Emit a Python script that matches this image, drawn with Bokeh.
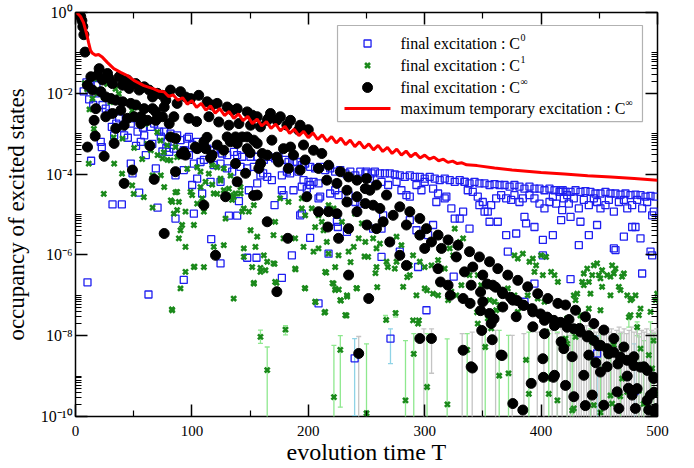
import math
from bokeh.plotting import figure
from bokeh.models import (Range1d, FixedTicker, LogAxis, LinearAxis, Label,
                          BoxAnnotation, CustomJSTickFormatter)
from bokeh.embed import file_html
from bokeh.resources import INLINE

FONT = "Liberation Serif"

# ---------------- data: (evolution time T, log10 of occupancy) ----------------
c0_points = [
    (7,-1.95),(9.4,-1.73),(11.7,-2.15),(13,-1.75),(15.2,-2.29),(18,-1.8),(20,-2.0),(23.2,-2.29),(26,-2.38),
    (10.3,-6.68),(13.4,-3.67),(21.7,-3.2),(22.6,-3.33),(29,-2.5),(31.2,-2.83),(33.2,-3.04),(35,-2.75),(37.5,-2.62),
    (40,-2.85),(41.8,-3.04),(43.2,-2.62),(45,-3.1),(47.5,-2.75),(50.4,-2.62),(52,-3.3),(53.3,-2.95),(56.1,-3.2),
    (58,-2.85),(59,-3.04),(60.4,-3.53),(64.7,-2.83),(66,-3.25),(67.6,-2.75),(69,-3.86),(71.9,-2.95),(73.3,-3.07),
    (74.7,-3.44),(76.2,-2.95),(78,-3.35),(79,-3.2),(80.5,-3.45),(47.5,-3.74),(49,-3.98),(54.7,-4.46),(31.8,-4.75),
    (39.8,-4.75),(62.7,-6.98),(70.5,-4.83),
    (81.6,-3.0),(87.3,-3.04),(90.2,-3.16),(95.9,-3.12),(97.4,-3.08),(100.2,-3.28),(104.5,-3.2),(110.3,-3.2),
    (113.1,-3.37),(118.8,-3.41),(121.7,-3.37),(126,-3.49),(130.3,-3.53),(136.1,-3.45),(138.9,-3.53),(143.2,-3.57),
    (150.4,-3.57),(156.1,-3.57),(161.8,-3.65),
    (84.5,-3.37),(93,-3.41),(97.4,-3.53),(101.7,-3.74),(107.4,-3.7),(110.3,-3.65),(118.8,-3.78),(124.6,-3.74),
    (130.3,-3.86),(134.6,-3.94),(141.8,-3.82),(147.5,-3.86),(153.2,-3.82),(158.9,-4.03),(164.7,-4.07),(85.9,-4.03),
    (93,-3.9),(104.5,-4.11),(116,-4.19),(124.6,-4.19),(138.9,-4.19),(148.9,-4.4),(156.1,-4.23),(161.2,-3.98),
    (100.2,-4.27),(108.8,-4.48),(101.7,-4.98),(85.9,-5.1),(140.4,-4.67),(131.8,-5.03),(138.9,-5.03),(116.6,-5.61),
    (124.6,-6.21),(93,-6.62),(147.5,-6.07),(155.5,-6.07),
    (165.8,-3.57),(171.5,-3.61),(174.4,-3.57),(180.1,-3.65),(183,-3.7),(187.3,-3.7),(190.2,-3.7),(194.4,-3.78),
    (197.3,-3.74),(201.6,-3.82),(205.9,-3.86),(210.2,-3.82),(214.5,-3.9),(218.8,-3.86),(223.1,-3.94),(227.5,-3.9),
    (231.8,-3.98),(236.1,-3.94),(240.4,-4.03),(244.7,-3.94),(249,-3.98),
    (168.7,-4.15),(177.3,-4.03),(181.6,-3.94),(184.4,-3.98),(191.6,-3.94),(195.9,-4.15),(200.2,-4.19),(204.5,-4.19),
    (208.8,-4.23),(177.3,-4.4),(178.7,-4.52),(187.3,-4.4),(194.4,-4.31),(198.7,-4.36),(201.6,-4.27),(208.8,-4.6),
    (210.2,-4.56),(218.8,-4.48),(223.1,-4.4),(226,-4.52),(234.6,-4.52),(240.4,-4.69),(244.7,-4.73),(171,-4.77),
    (193,-5.02),(194.4,-4.98),(217.4,-4.89),(224.6,-5.18),(225.4,-5.31),(233.2,-5.43),(185.9,-6.01),(201.6,-5.58),
    (217.4,-5.97),(177.3,-6.57),(208.8,-7.2),(239.8,-8.56),
    (250,-3.94),(254.3,-3.98),(257.2,-3.94),(261.5,-3.98),(265.8,-3.98),(270,-3.98),(274.3,-4.01),(278.6,-4.03),
    (282.9,-4.07),(287.2,-4.03),(291.5,-4.07),(295.8,-4.07),(300,-4.11),(304.3,-4.07),(308.6,-4.11),(312.9,-4.15),
    (317.2,-4.11),(321.5,-4.15),(325.8,-4.19),(330.1,-4.15),(334.4,-4.19),
    (252.9,-4.11),(262.9,-4.19),(268.6,-4.27),(275.8,-4.19),(280,-4.4),(284.3,-4.52),(287.2,-4.56),(292.9,-4.27),
    (297.2,-4.4),(300,-4.19),(307.2,-4.36),(311.5,-4.48),(317.2,-4.6),(318.6,-4.56),(322.9,-4.85),(325.8,-5.1),
    (330.1,-5.1),(333,-4.93),(264.3,-5.02),(262.9,-5.35),(287.2,-5.14),(292.9,-5.39),(302.9,-5.51),(307.2,-5.26),
    (310,-4.69),(278.6,-5.92),(262.9,-6.05),(294.3,-6.3),(324.9,-6.54),(301.5,-7.37),(270.6,-8.07),(255.7,-5.35),
    (334.2,-4.19),(338.5,-4.23),(342.8,-4.19),(347,-4.23),(351.4,-4.23),(355.7,-4.27),(360,-4.25),(364.3,-4.27),
    (368.6,-4.27),(372.9,-4.31),(377.1,-4.27),(381.4,-4.31),(385.7,-4.36),(390,-4.31),(394.3,-4.36),(398.6,-4.36),
    (402.9,-4.4),(407.2,-4.36),(411.5,-4.4),(415.8,-4.44),(418.6,-4.4),
    (337,-4.4),(341.3,-4.44),(345.6,-4.56),(349.9,-4.69),(347,-4.77),(351.4,-4.93),(357.1,-4.77),(361.4,-4.6),
    (365.7,-4.52),(370,-4.6),(374.3,-4.64),(377.1,-4.52),(381.4,-4.69),(384.3,-4.6),(390,-4.52),(394.3,-4.6),
    (398.6,-4.73),(402.9,-4.85),(407.2,-4.69),(410.1,-4.56),(412.9,-4.73),(354.2,-4.93),(355.7,-5.18),(362.8,-5.18),
    (370,-5.51),(378.6,-5.47),(385.7,-5.06),(387.1,-5.22),(394.3,-5.31),(401.5,-5.63),(410.1,-5.51),(371.4,-5.92),
    (401.5,-6.01),(385.7,-7.16),(394.3,-6.71),(338.5,-5.35),(417.2,-5.14),
    (416.7,-4.4),(421,-4.44),(425.3,-4.44),(429.6,-4.4),(433.8,-4.44),(438.1,-4.42),(442.4,-4.44),(446.7,-4.48),
    (451,-4.48),(455.3,-4.44),(459.6,-4.48),(463.9,-4.48),(468.2,-4.51),(472.5,-4.48),(476.8,-4.52),(481.1,-4.51),
    (485.4,-4.52),(489.7,-4.56),(494,-4.54),(498.3,-4.56),
    (419.5,-4.6),(423.8,-4.73),(422.4,-4.52),(428.1,-4.6),(432.4,-4.85),(436.7,-4.64),(441,-4.77),(445.3,-4.6),
    (448.1,-4.69),(451,-4.85),(455.3,-4.77),(458.2,-4.64),(462.5,-4.93),(466.8,-4.69),(471.1,-4.64),(474,-4.85),
    (478.2,-4.77),(482.5,-4.64),(486.8,-4.85),(491.1,-4.69),(495.4,-5.02),(496.8,-4.93),
    (418.1,-4.89),(425.3,-5.06),(433.8,-5.18),(441,-5.51),(448.1,-5.26),(462.5,-5.84),(463.9,-5.88),(471.1,-5.55),
    (478.2,-5.31),(481.1,-5.31),(485.4,-5.59),(494,-5.92),(495.4,-6.01),(432.4,-5.76),(486.8,-6.46),(425.3,-6.6),
    (448.1,-8.44),(480.3,-9.37),
]

c1_points = [
    (8,-1.75),(10,-1.9),(12,-2.4),(14.6,-2.13),(15.8,-1.64),(18.9,-2.0),(20,-1.93),(24.3,-2.1),(27.2,-1.77),
    (30,-2.22),(34.4,-1.89),(37.2,-2.01),(41.5,-2.18),(44.4,-2.22),(48.7,-2.43),(53,-2.34),(55.8,-2.63),
    (60.1,-2.76),(63,-2.67),(70.2,-2.96),(73,-3.17),(78.8,-3.29),
    (15.8,-2.88),(32.7,-3.09),(40.4,-3.12),(50.4,-3.35),(57.3,-3.63),(61.6,-3.25),(64.7,-3.41),(70.5,-3.53),
    (74.7,-3.61),(75.9,-3.46),(79,-3.65),
    (11.4,-3.74),(33.2,-3.74),(40,-3.99),(48.7,-4.28),(24.3,-4.49),(50,-4.49),(58.7,-4.57),(66.2,-4.83),
    (66.2,-4.03),(73.3,-4.03),(76.2,-4.32),(81.9,-4.65),(82.8,-7.35),
    (81.6,-3.66),(85.9,-3.33),(87.3,-3.58),(96,-3.87),(104.5,-3.83),(114.5,-3.99),(121.7,-3.83),(124.6,-4.16),
    (133.2,-4.04),(141.8,-4.32),(85.9,-4.45),(107.4,-4.32),(121.7,-4.49),(136,-4.57),
    (117.4,-3.78),(127.4,-3.86),(107.4,-3.94),(111.7,-4.19),(117.4,-4.26),(124.6,-4.11),(131.8,-4.36),
    (137.5,-4.48),(133.2,-4.52),(141.8,-4.48),(144.6,-4.85),(148.9,-4.93),(153.2,-4.77),(87.3,-4.44),(88.8,-4.69),
    (83.1,-4.69),(98.8,-4.44),(100.2,-4.52),(104.5,-4.73),(108.8,-4.6),(84.5,-4.98),(87.3,-4.89),(94.5,-4.93),
    (101.7,-5.26),(91.6,-5.26),(90.2,-5.39),(88.8,-5.59),(94.5,-5.8),(110.3,-4.93),(118.8,-4.48),(127.4,-4.4),
    (134.6,-4.64),(128.9,-5.1),(143.2,-4.93),(150.4,-5.39),(156.1,-5.55),(154.6,-5.8),(161.8,-6.01),(164.7,-6.17),
    (151.8,-6.3),(158.9,-6.42),(163.2,-6.38),(144.6,-6.05),(144.6,-5.84),(127.4,-5.76),(118.8,-5.8),(101.7,-6.3),
    (110.3,-6.3),(94.5,-6.42),(90.2,-6.83),(135.9,-7.08),(153.2,-6.71),(83.1,-7.37),(158.9,-8.03),(164.7,-8.85),
    (102.2,-6.29),(153.2,-6.69),(158.9,-6.32),
    (171,-6.22),(172.7,-6.69),(180.4,-7.85),(189,-6.36),(197,-6.82),(206.2,-7.17),(213.9,-7.43),(215.4,-6.44),
    (220.8,-6.7),(223.4,-6.84),(226.2,-6.86),(228,-7.13),(232.8,-7.5),(233.4,-7.03),(236.3,-6.18),(241.4,-6.82),
    (248.3,-6.04),
    (175.8,-4.6),(183,-4.69),(194.4,-4.6),(203,-4.85),(208.8,-5.02),(211.6,-5.18),(194.4,-4.85),(171.5,-5.18),
    (197.3,-5.02),(217.4,-4.77),(221.7,-4.85),(205.9,-5.31),(228.9,-5.18),(246,-5.22),(240.2,-4.98),(170.1,-5.51),
    (178.7,-5.59),(188.7,-5.59),(195.9,-5.8),(204.5,-5.92),(208.8,-5.84),(213.1,-5.39),(215.9,-5.68),(217.4,-5.97),
    (223.1,-6.3),(226,-6.01),(234.6,-5.92),(239,-5.8),(243.3,-5.59),(249,-5.68),(170.1,-6.21),(171.5,-6.67),
    (188.7,-6.34),(197.3,-6.83),(205.9,-7.16),(214.5,-6.42),(221.7,-6.71),(223.1,-6.87),(227.5,-7.12),(233.2,-7.0),
    (241.8,-6.83),(231.8,-7.49),(214.5,-7.41),(222,-9.52),(227.5,-8.35),(250,-9.92),
    (251.4,-5.26),(255.7,-5.59),(261.5,-5.72),(258.6,-5.84),(251.4,-6.05),(265.8,-5.18),(270,-5.68),(275.8,-5.55),
    (280,-5.76),(278.6,-6.01),(267.2,-6.17),(274.3,-6.34),(287.2,-6.26),(290,-6.01),(295.8,-6.17),(300,-6.3),
    (305.8,-6.26),(311.5,-6.13),(317.2,-6.34),(321.5,-5.84),(324.4,-6.01),(330.1,-5.68),(333,-5.59),(325.8,-5.35),
    (320.1,-5.59),(281.5,-6.79),(287.2,-6.5),(275.8,-6.17),(292.9,-7.0),(300,-6.83),(307.2,-6.96),(312.9,-6.71),
    (322.9,-6.91),(327.2,-7.0),(331.5,-6.75),(258.6,-6.3),(257.7,-6.45),(259.2,-6.8),(266.9,-7.61),(268.3,-6.3),
    (285,-6.55),(302,-6.88),(275,-7.44),(290,-7.62),(294.3,-7.7),(311.5,-7.0),(320.1,-7.12),(302,-9.27),
    (283.5,-9.6),(290.6,-8.45),(319.5,-9.7),(295,-7.62),
    (336.5,-8.35),(345,-7.42),(352,-8.28),(364,-8.99),(372,-8.93),(389.5,-9.44),(406.6,-9.44),(414,-9.6),
    (377.1,-6.01),(380,-6.09),(384.3,-5.97),(390,-6.17),(392.9,-6.09),(395.7,-6.26),(400,-6.01),(404.3,-6.05),
    (394.3,-6.42),(401.5,-6.5),(408.6,-6.42),(411.5,-6.5),(414.4,-6.67),(338.5,-6.5),(345.6,-6.5),(348.5,-6.75),
    (355.7,-7.12),(360,-7.16),(364.3,-7.24),(361.4,-7.37),(365.7,-7.33),(371.4,-6.83),(377.1,-7.0),(380,-7.16),
    (388.5,-7.0),(397.1,-7.08),(402.9,-7.16),(380,-7.41),(345.6,-7.7),(354.2,-7.57),(357.1,-7.82),(387.1,-8.6),
    (408.6,-9.06),(404.3,-7.9),
    (422.4,-8.2),(426.7,-9.85),(433.8,-7.5),(442.4,-8.53),(451,-9.9),(459.6,-9.48),(468,-9.5),(475.4,-7.54),
    (482.5,-7.79),(484,-9.36),(488,-9.69),(496.6,-8.12),
    (436.7,-6.46),(439.6,-6.34),(445.3,-6.26),(448.1,-6.21),(443.9,-6.5),(449.6,-6.5),(452.4,-6.38),(456.7,-6.5),
    (459.6,-6.54),(462.5,-6.46),(463.9,-6.34),(461,-6.26),(469.6,-6.54),(471.1,-6.46),(451,-6.58),(441,-6.67),
    (435.3,-6.67),(436.7,-6.75),(452.4,-6.79),(466.8,-6.79),(468.2,-6.87),(474,-7.0),(478.2,-7.08),(481.1,-7.0),
    (476.8,-7.12),(459.6,-7.0),(442.4,-6.96),(431,-6.96),(428.1,-7.0),(429.6,-7.12),(499.7,-6.96),(498.3,-7.12),
    (494,-7.41),(485.4,-7.33),(484,-7.49),(476.8,-7.49),(451,-7.37),(441,-7.33),(422.4,-7.57),(421,-8.07),
    (429.6,-8.03),(443.9,-8.15),(456.7,-8.48),(462.5,-8.23),(469.6,-9.06),(474,-9.39),(492.5,-8.48),(485.4,-8.32),
    (495.4,-8.81),(498.3,-9.43),(461,-9.68),(428.1,-9.8),(445.3,-9.72),
]

cinf_points = [
    (0.8,-0.01),(2,-0.02),(3.2,-0.04),(4.5,-0.1),(5.5,-0.2),(6.3,-0.35),(7.2,-0.55),(8.2,-0.98),
    (13.2,-1.59),(20.3,-1.39),(18.9,-1.55),(23.2,-1.67),(27.5,-1.51),(28.9,-1.63),(31.8,-1.76),(37.5,-1.59),
    (40.4,-1.8),(44.7,-1.67),(46.1,-1.88),(51.8,-1.76),(54.7,-1.92),(59,-1.84),(63.3,-1.92),(66.2,-2.09),
    (70.4,-2.0),(74.7,-2.05),(77.6,-2.17),
    (10.3,-1.8),(14.6,-1.92),(21.8,-1.96),(26,-2.09),(30.4,-2.13),(34.6,-2.17),(40.4,-2.21),(47.5,-2.25),
    (51.8,-2.29),(59,-2.38),(66.2,-2.38),(69,-2.46),(76.2,-2.34),
    (17.5,-2.38),(26,-2.58),(31.8,-2.5),(38.9,-2.42),(44.7,-2.62),(50.4,-2.58),(56.1,-2.58),(61.9,-2.67),
    (69,-2.67),(74.7,-2.58),(80.5,-2.75),(34.6,-2.87),(41.8,-2.79),(56.1,-2.75),
    (16,-2.67),(16.9,-3.06),(10.3,-3.33),(24.6,-3.56),(33.2,-3.24),(41.8,-4.23),(48.9,-3.9),(67.6,-4.13),
    (76.2,-5.47),(64,-3.3),(91,-3.5),(116,-3.6),(113,-3.09),(133,-3.2),(150,-3.47),(159,-3.74),(173,-3.58),
    (184.7,-3.33),(193,-3.9),(153,-4.53),
    (81.6,-1.92),(90.2,-1.96),(98.8,-2.13),(105.9,-2.05),(113.1,-2.21),(121.7,-2.25),(130.3,-2.34),(138.9,-2.38),
    (147.5,-2.46),(156.1,-2.58),(164.7,-2.67),(87.3,-2.25),(94.5,-2.09),(117.4,-2.29),(134.6,-2.42),(151.8,-2.54),
    (84.5,-2.58),(97.4,-2.62),(104,-2.7),(114.6,-2.58),(123.1,-2.71),(131.8,-2.79),(140.4,-2.75),(150.4,-2.79),
    (158.9,-2.83),
    (81.6,-3.08),(85.9,-3.12),(93,-3.45),(103,-3.33),(110.3,-3.2),(111.7,-3.37),(117.4,-3.53),(121.7,-3.28),
    (127.4,-3.41),(130.3,-3.08),(137.5,-3.08),(138.9,-3.24),(143.2,-3.08),(147.5,-3.08),(153.2,-3.16),(156.1,-3.24),
    (160.4,-3.49),(164.7,-3.53),(147.5,-3.37),(137.5,-3.74),(157.5,-3.86),(146.1,-3.98),(85.9,-3.94),(94.5,-3.53),
    (104.5,-3.37),(138.9,-4.19),(156.1,-4.52),(128.9,-4.56),(110.3,-4.77),(120.3,-6.01),(164.7,-5.18),
    (167.5,-2.5),(176,-2.58),(184.7,-2.67),(193,-2.79),(200,-2.9),
    (165.8,-2.62),(173,-2.67),(181.6,-2.79),(191.6,-2.91),(195.9,-3.28),(204.5,-3.41),(211.6,-3.49),(217.4,-3.78),
    (227.5,-3.94),(234.6,-4.07),(241.8,-4.15),(249,-4.36),
    (168.7,-3.16),(178.7,-3.37),(187.3,-3.53),(197.3,-3.65),(208.8,-3.86),(215.9,-4.15),(224.6,-4.23),(233.2,-4.4),
    (241.8,-4.56),(249,-4.73),
    (174.4,-3.7),(183,-3.86),(198.7,-4.56),(208.8,-4.93),(217.4,-4.93),(224.6,-4.98),(233.2,-4.69),(241.8,-4.93),
    (250.4,-5.26),(234.6,-5.35),(226,-5.59),(216.8,-5.31),(182.4,-5.59),(173,-6.91),(234.6,-6.5),(243.3,-8.44),
    (251.9,-7.08),
    (250,-4.11),(258.6,-4.27),(267.2,-4.52),(278.6,-4.81),(287.2,-4.93),(295.8,-5.1),(301.5,-5.35),(311.5,-5.51),
    (320.1,-5.63),(328.6,-5.76),
    (255.7,-4.77),(264.3,-5.18),(272.9,-5.02),(284.3,-5.26),(295.8,-5.51),(305.8,-5.68),(314.4,-5.84),(327.2,-6.05),
    (258.6,-5.35),(270,-5.68),(278.6,-6.01),(300,-5.84),(284.3,-6.26),(311.5,-6.34),(320.1,-6.75),(333,-7.08),
    (295.8,-8.07),(305.8,-8.07),(333,-8.36),(252.9,-4.4),(261.5,-4.85),
    (338.5,-5.92),(347,-6.05),(355.7,-6.17),(362.8,-6.34),(371.4,-6.5),(380,-6.63),(388.5,-6.79),(397.1,-6.96),
    (405.8,-7.08),(414.4,-7.2),
    (341.3,-6.3),(349.9,-6.5),(358.5,-6.75),(367.1,-6.96),(375.7,-7.12),(384.3,-7.24),(392.9,-7.41),(402.9,-7.62),
    (411.5,-7.75),
    (334.2,-6.42),(339.9,-6.75),(349.9,-7.16),(355.7,-7.45),(357.1,-7.7),(367.1,-7.29),(378.6,-7.53),(392.9,-7.78),
    (402.9,-7.95),(417.2,-8.15),(339.9,-8.77),(365.7,-8.48),(401.5,-8.57),(391.5,-9.18),(411.5,-8.98),(375.7,-9.68),
    (384.3,-9.84),
    (348,-6.92),(353.6,-6.72),(360.9,-6.8),(366.6,-6.92),(373.7,-7.05),(379.4,-7.13),(385.2,-7.25),(392.3,-7.33),
    (399.5,-7.46),(405.2,-7.54),(410.9,-7.62),(416.7,-7.67),(422.4,-7.79),(428.2,-7.83),(433.9,-7.91),(439.6,-8.03),
    (445.4,-8.12),(451.1,-8.24),(456.8,-8.32),(462.5,-8.41),(468.2,-8.53),(474,-8.61),(479.7,-8.74),(485.4,-8.78),
    (491.2,-8.86),(496.9,-9.03),
    (421,-7.24),(429.6,-7.37),(438.1,-7.53),(445.3,-7.7),(453.9,-7.86),(462.5,-8.07),(471.1,-8.28),(479.7,-8.52),
    (488.3,-8.77),(496.8,-9.06),
    (424,-7.6),(433,-7.82),(441,-8.0),(449.6,-8.25),(458,-8.45),(466,-8.7),(474,-9.0),(482.5,-9.31),(491.1,-9.6),
    (499,-9.8),
    (419.5,-8.32),(426.7,-8.52),(436.7,-8.98),(441,-8.48),(456.7,-8.77),(465.4,-9.39),(451,-8.9),(478.2,-9.47),
    (494,-9.47),(428.1,-9.51),(443.9,-9.47),(453.9,-9.72),(466.8,-9.8),(492.5,-9.84),(498.3,-9.93),(421,-9.23),
    (341,-8.8),(402,-9.03),(410.6,-9.03),(438,-9.73),(447,-8.67),(475,-9.3),(481,-9.8),(497,-9.4),(313.6,-6.67),
    (322,-7.0),(339,-7.2),(348,-7.38),(359.6,-7.58),(349,-7.87),(366.5,-8.49),(358,-8.1),
]

cmax_points = [
    (0,0.0),(1.7,-0.02),(4.3,-0.1),(6.9,-0.25),(9.5,-0.52),(11.2,-0.74),(12.9,-0.94),(14.6,-1.01),(17.2,-1.06),
    (19.8,-1.04),(23.2,-1.11),(27.5,-1.24),(32.9,-1.39),(38.7,-1.48),(44.4,-1.56),(50.1,-1.68),(58.7,-1.81),
    (67.3,-1.89),(72,-1.95),
    (76,-1.96),(80,-2.08),(84,-2.04),(88,-2.17),(92,-2.11),(96,-2.27),(100,-2.18),(104,-2.35),(108,-2.25),
    (112,-2.42),(116,-2.31),(120,-2.49),(124,-2.38),(128,-2.55),(132,-2.45),(136,-2.62),(140,-2.51),(144,-2.68),
    (148,-2.57),(152,-2.75),(156,-2.64),(160,-2.81),(164,-2.70),(168,-2.87),(172,-2.76),(176,-2.93),(180,-2.82),
    (184,-2.99),(188,-2.89),(192,-3.05),(196,-2.94),(200,-3.10),(204,-2.98),(208,-3.14),(212,-3.03),(216,-3.19),
    (220,-3.07),(224,-3.23),(228,-3.11),(232,-3.27),(236,-3.16),(240,-3.32),(244,-3.20),(248,-3.36),(252,-3.25),
    (256,-3.40),(260,-3.29),(264,-3.44),(268,-3.34),(272,-3.49),(276,-3.38),(280,-3.53),(284,-3.43),(288,-3.57),
    (292,-3.48),(296,-3.60),(300,-3.53),(304,-3.63),(308,-3.58),(312,-3.67),(316,-3.63),(320,-3.71),(324,-3.68),
    (328,-3.74),(332,-3.72),(336,-3.77),
    (345,-3.79),(360,-3.85),(375,-3.9),(400,-3.96),(420,-4.0),(440,-4.04),(460,-4.07),(480,-4.11),(500,-4.15),
]

# error bars: (T, log10 lower end, log10 upper end)
c0_errbars = [(239.8,-9.98,-8.07),(270.6,-8.69,-7.83),(448.1,-10.5,-8.0),(480.3,-10.5,-8.2)]
c1_errbars = [
    (158.9,-8.19,-7.86),(164.7,-10.5,-8.28),(180.4,-7.98,-7.75),(222,-10.5,-8.24),(227.5,-9.77,-8.0),
    (250,-10.5,-8.2),(266.3,-7.66,-7.5),(275,-7.54,-7.38),(283.5,-10.5,-8.12),(290.6,-10.5,-7.95),
    (302,-10.5,-7.95),(319.3,-10.5,-8.08),(336.5,-10.5,-7.95),(352,-10.5,-7.83),(364,-10.5,-7.87),
    (372,-10.5,-7.99),(389.5,-10.5,-7.91),(406.6,-10.5,-7.95),(414,-10.5,-7.91),(422.4,-10.5,-7.87),
    (426.7,-10.5,-7.95),(433.8,-7.79,-7.46),(442.4,-10.5,-7.83),(451,-10.5,-7.95),(459.6,-10.5,-8.03),
    (468,-10.5,-7.95),(475.4,-7.79,-7.54),(482.5,-8.0,-7.66),(484,-10.5,-8.03),(488,-10.5,-8.12),
    (494,-10.5,-7.66),(496.6,-10.5,-7.95),
]
cinf_errbars = [
    (243.3,-10.5,-8.02),(299.3,-10.5,-7.83),(305.9,-8.93,-7.83),(332.2,-10.5,-7.95),(340.8,-10.5,-7.91),
    (349.4,-10.5,-7.95),(360.9,-10.5,-7.87),(375.2,-10.5,-7.99),(385.2,-10.5,-7.95),(396.7,-10.5,-7.91),
    (402.4,-10.5,-8.03),(409.5,-10.5,-7.87),(413.8,-10.5,-7.95),(418.1,-10.5,-7.83),(422.4,-10.5,-7.91),
    (425,-10.5,-7.99),(428.2,-10.5,-7.79),(430.5,-10.5,-7.87),(432.5,-10.5,-7.95),(434.5,-10.5,-7.83),
    (436.8,-10.5,-7.91),(439,-10.5,-7.75),(441.1,-10.5,-7.87),(443.2,-10.5,-7.95),(445.4,-10.5,-7.79),
    (447.5,-10.5,-7.91),(449.7,-10.5,-7.83),(452,-10.5,-7.95),(454,-10.5,-7.87),(456.2,-10.5,-7.79),
    (458.3,-10.5,-7.91),(460.5,-10.5,-7.83),(462.7,-10.5,-7.95),(465,-10.5,-7.87),(467,-10.5,-7.79),
    (469.2,-10.5,-7.91),(471.3,-10.5,-7.83),(473.5,-10.5,-7.95),(475.6,-10.5,-7.87),(477.7,-10.5,-7.79),
    (479.9,-10.5,-7.91),(482,-10.5,-7.83),(484.2,-10.5,-7.95),(486.3,-10.5,-7.87),(488.5,-10.5,-7.91),
    (490.7,-10.5,-7.83),(492.8,-10.5,-7.95),(495,-10.5,-7.87),(497.1,-10.5,-7.91),(499.3,-10.5,-7.83),
]

x_major = [0, 100, 200, 300, 400, 500]
x_minor = [50, 150, 250, 350, 450]
y_exponents = [0, -2, -4, -6, -8, -10]
legend_texts = ["final excitation : C", "final excitation : C", "final excitation : C",
                "maximum temporary excitation : C"]
legend_sups = ["0", "1", "\u221e", "\u221e"]

BLUE = "#1f1ff0"
GREEN = "#1b8a1b"
RED = "#ff0000"


def unpack(points):
    return [t for t, _ in points], [10.0 ** e for _, e in points]


p = figure(width=694, height=468, title=None, x_range=Range1d(0, 500),
           y_range=Range1d(1e-10, 1.0), y_axis_type="log",
           output_backend="svg", toolbar_location=None,
           min_border_left=75, min_border_right=37, min_border_top=12, min_border_bottom=52)
p.xgrid.visible = False
p.ygrid.visible = False
p.outline_line_color = "black"
p.outline_line_width = 1.5
p.background_fill_color = "white"
p.border_fill_color = "white"

xt = FixedTicker(ticks=x_major, minor_ticks=x_minor)
yt = FixedTicker(ticks=[10.0 ** e for e in y_exponents],
                 minor_ticks=[m * 10.0 ** e for e in y_exponents[1:] for m in range(2, 11)])
blank = CustomJSTickFormatter(code="return ''")
pow_fmt = CustomJSTickFormatter(code="""
const e = Math.round(Math.log10(tick));
const sup = {"0":"\\u2070","1":"\\u00b9","2":"\\u00b2","3":"\\u00b3","4":"\\u2074","5":"\\u2075",
             "6":"\\u2076","7":"\\u2077","8":"\\u2078","9":"\\u2079","-":"\\u207b"};
return "10" + String(e).split("").map(c => sup[c]).join("");
""")


def style_axis(ax, ticker):
    ax.ticker = ticker
    ax.axis_line_color = None
    ax.major_tick_in = 12
    ax.major_tick_out = 0
    ax.minor_tick_in = 6
    ax.minor_tick_out = 0
    ax.major_tick_line_color = "black"
    ax.minor_tick_line_color = "black"
    ax.major_tick_line_width = 1.5
    ax.minor_tick_line_width = 1.2
    ax.major_label_text_font = FONT
    ax.major_label_text_font_size = "15px"
    ax.major_label_text_color = "black"
    ax.axis_label_text_font = FONT
    ax.axis_label_text_font_style = "normal"
    ax.axis_label_text_color = "black"


bottom_axis = p.xaxis[0]
style_axis(bottom_axis, xt)
bottom_axis.major_label_standoff = 9
bottom_axis.axis_label = "evolution time T"
bottom_axis.axis_label_text_font_size = "24px"
bottom_axis.axis_label_standoff = 0

left_axis = p.yaxis[0]
style_axis(left_axis, yt)
left_axis.formatter = pow_fmt
left_axis.major_label_standoff = 3
left_axis.major_label_text_font_size = "16px"
left_axis.axis_label = "occupancy of excited states"
left_axis.axis_label_text_font_size = "23px"
left_axis.axis_label_standoff = 9

top_axis = LinearAxis()
style_axis(top_axis, xt)
top_axis.formatter = blank
top_axis.major_label_standoff = 0
right_axis = LogAxis()
style_axis(right_axis, yt)
right_axis.formatter = blank
right_axis.major_label_standoff = 0
p.add_layout(top_axis, "above")
p.add_layout(right_axis, "right")

# error bars
for bars, col in ((c0_errbars, "#8fd3e6"), (c1_errbars, "#8ee88e"), (cinf_errbars, "#c4c4c4")):
    bt = [b[0] for b in bars]
    lo = [10.0 ** b[1] for b in bars]
    hi = [10.0 ** b[2] for b in bars]
    p.segment(x0=bt, y0=lo, x1=bt, y1=hi, line_color=col, line_width=1.3)
    p.scatter(bt, hi, marker="dash", size=5, line_color=col, line_width=1.3)
    p.scatter(bt, lo, marker="dash", size=5, line_color=col, line_width=1.3)

# data
x0, y0 = unpack(c0_points)
p.scatter(x0, y0, marker="square", size=7, line_color=BLUE, fill_color=None, line_width=1.3)
x1, y1 = unpack(c1_points)
p.scatter(x1, y1, marker="x", size=7, line_color=GREEN, line_width=2.6)
x2, y2 = unpack(cinf_points)
p.scatter(x2, y2, marker="circle", size=10, fill_color="black", line_color="black")
x3, y3 = unpack(cmax_points)
p.line(x3, y3, line_color=RED, line_width=3)

# legend (drawn by hand so the superscripts can be set)
p.add_layout(BoxAnnotation(left=225.1, right=487.1, top=10 ** -0.322, bottom=10 ** -2.70,
                           fill_color="white", fill_alpha=1.0, line_color="black",
                           line_width=1.2, level="underlay"))
rows = [-0.767, -1.312, -1.856, -2.376]
p.scatter([250.9], [10 ** rows[0]], marker="square", size=7, line_color=BLUE, fill_color=None, line_width=1.3)
p.scatter([250.9], [10 ** rows[1]], marker="x", size=7, line_color=GREEN, line_width=2.6)
p.scatter([250.9], [10 ** rows[2]], marker="circle", size=10, fill_color="black", line_color="black")
p.line([231.1, 270.6], [10 ** rows[3], 10 ** rows[3]], line_color=RED, line_width=3)
sup_x = [382.3, 382.3, 382.3, 472.5]
for r, txt, sup, sx in zip(rows, legend_texts, legend_sups, sup_x):
    p.add_layout(Label(x=279.2, y=10 ** r, text=txt, text_align="left", text_baseline="middle",
                       text_font=FONT, text_font_size="16px", text_color="black"))
    p.add_layout(Label(x=sx, y=10 ** r, text=sup, text_align="left", text_baseline="middle",
                       y_offset=6, text_font=FONT, text_font_size="10px", text_color="black"))

open("out.html", "w").write(file_html(p, INLINE))
